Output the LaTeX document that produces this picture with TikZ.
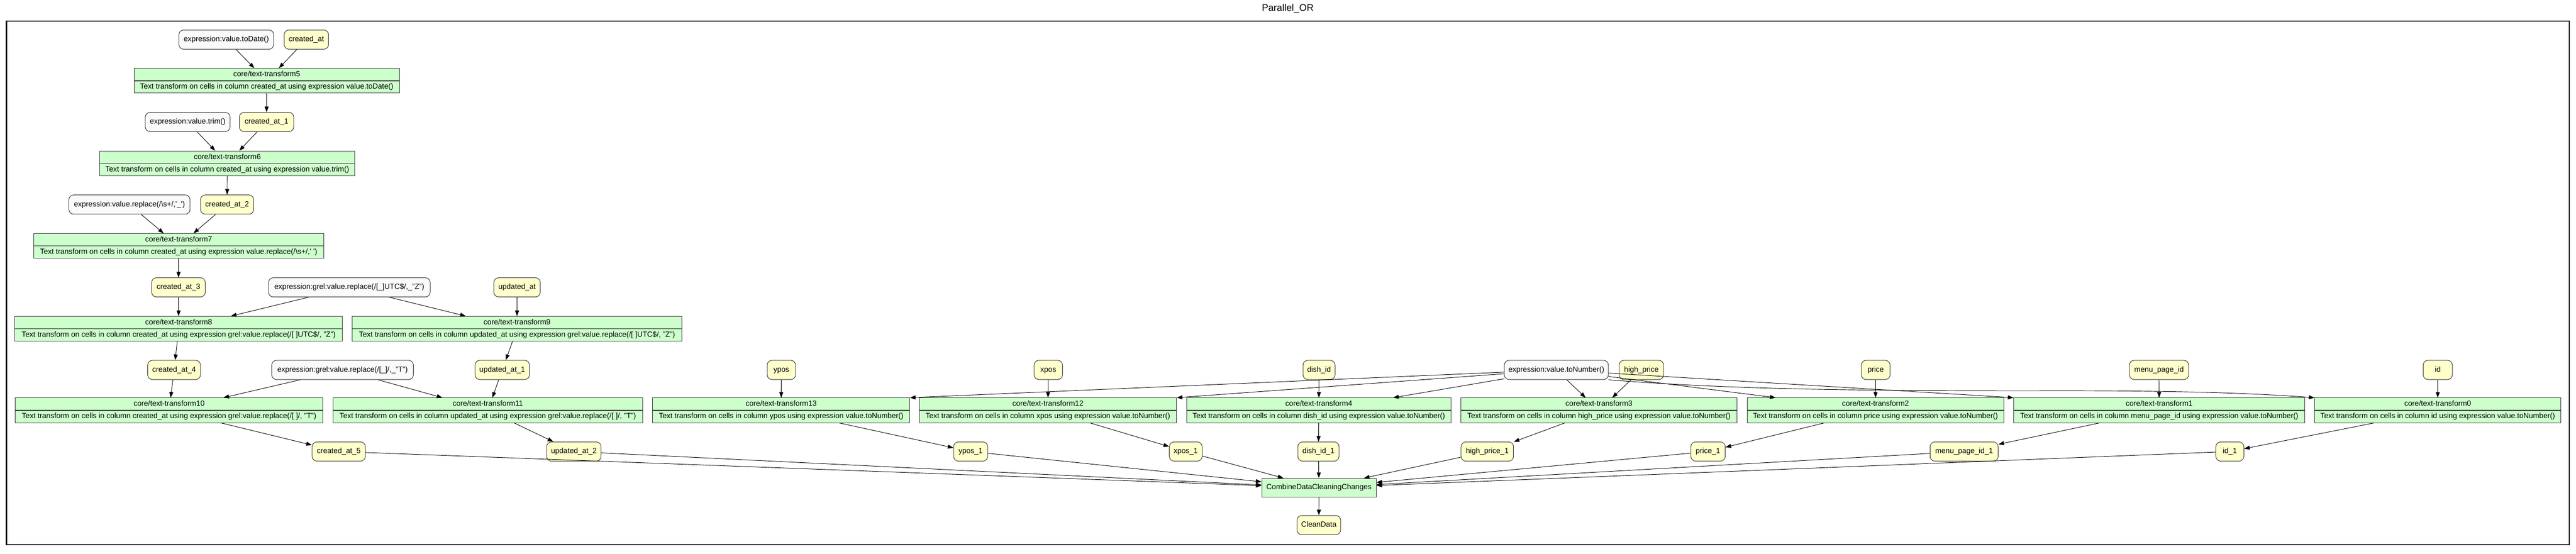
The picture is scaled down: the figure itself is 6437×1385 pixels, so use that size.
\documentclass[tikz,border=0pt]{standalone}
\usepackage{fontspec}
\setmainfont{Liberation Sans}
\usetikzlibrary{arrows.meta}
\definecolor{gvyellow}{HTML}{FFFFCC}
\definecolor{gvgreen}{HTML}{CCFFCC}
\definecolor{gvwhite}{HTML}{FAFAFA}
\definecolor{gvborder}{HTML}{333333}
\tikzset{
 gvbase/.style={draw=gvborder, line width=1.3pt, font=\fontsize{18.67}{22}\selectfont, inner xsep=3pt, inner ysep=0pt, minimum height=48pt, text height=13.5pt, text depth=4pt},
 datum/.style={gvbase, fill=gvyellow, rounded corners=12pt},
 exprn/.style={gvbase, fill=gvwhite, rounded corners=12pt},
 tbox/.style={draw=gvborder, line width=1.3pt, fill=gvgreen, font=\fontsize{18.67}{31}\selectfont, align=center, minimum height=62pt, inner xsep=3pt, inner ysep=0pt,
   path picture={\draw[gvborder, line width=2pt] (path picture bounding box.west) -- (path picture bounding box.east);}},
 cbox/.style={gvbase, fill=gvgreen, minimum height=47pt},
 flow/.style={draw=black, line width=1.2pt, -{Triangle[length=14pt,width=10pt]}},
}
\begin{document}
\begin{tikzpicture}[x=1pt,y=-1pt]
\useasboundingbox (0,0) rectangle (6437,1385);
\node[font=\fontsize{24}{28}\selectfont] (title) at (3218,22) {Parallel\_OR};
\draw[line width=3pt, black] (16,53) rectangle (6420,1362);

% created_at chain
\node[exprn, minimum width=237pt] (eToDate) at (565.5,99) {expression:value.toDate()};
\node[datum, minimum width=111pt] (createdAt) at (765.5,99) {created\_at};
\node[tbox, minimum width=663pt] (t5) at (666.5,202) {core/text-transform5\\Text transform on cells in column created\_at using expression value.toDate()};
\node[exprn, minimum width=212pt] (eTrim) at (469,305) {expression:value.trim()};
\node[datum, minimum width=136pt] (createdAt1) at (666,305) {created\_at\_1};
\node[tbox, minimum width=638pt] (t6) at (568,408.5) {core/text-transform6\\Text transform on cells in column created\_at using expression value.trim()};
\node[exprn, minimum width=303pt] (eReplS) at (323.5,511.5) {expression:value.replace(/\textbackslash s+/,\textquotesingle\_\textquotesingle)};
\node[datum, minimum width=133pt] (createdAt2) at (567.5,511.5) {created\_at\_2};
\node[tbox, minimum width=725pt] (t7) at (446.5,615) {core/text-transform7\\Text transform on cells in column created\_at using expression value.replace(/\textbackslash s+/,\textquotesingle\ \textquotesingle)};
\node[datum, minimum width=134pt] (createdAt3) at (446,718.5) {created\_at\_3};
\node[exprn, minimum width=404pt] (eGrelZ) at (873,718.5) {expression:grel:value.replace(/[\_]UTC\$/,\_"Z")};
\node[datum, minimum width=116pt] (updatedAt) at (1292,718.5) {updated\_at};
\node[tbox, minimum width=819pt] (t8) at (446.5,822) {core/text-transform8\\Text transform on cells in column created\_at using expression grel:value.replace(/[ ]UTC\$/, "Z")};
\node[tbox, minimum width=824pt] (t9) at (1292,822) {core/text-transform9\\Text transform on cells in column updated\_at using expression grel:value.replace(/[ ]UTC\$/, "Z")};

% row of inputs
\node[datum, minimum width=132pt] (createdAt4) at (435,925) {created\_at\_4};
\node[exprn, minimum width=354pt] (eGrelT) at (856,925) {expression:grel:value.replace(/[\_]/,\_"T")};
\node[datum, minimum width=136pt] (updatedAt1) at (1255,925) {updated\_at\_1};
\node[datum, minimum width=71pt] (ypos) at (1952.5,925) {ypos};
\node[datum, minimum width=71pt] (xpos) at (2619.5,925) {xpos};
\node[datum, minimum width=80pt] (dishId) at (3296,925) {dish\_id};
\node[exprn, minimum width=260pt] (eToNumber) at (3889,925) {expression:value.toNumber()};
\node[datum, minimum width=111pt] (highPrice) at (4101.5,925) {high\_price};
\node[datum, minimum width=72pt] (price) at (4687,925) {price};
\node[datum, minimum width=148pt] (menuPageId) at (5395,925) {menu\_page\_id};
\node[datum, minimum width=73pt] (id) at (6091.5,925) {id};

% transforms row
\node[tbox, minimum width=769pt] (t10) at (422.5,1026) {core/text-transform10\\Text transform on cells in column created\_at using expression grel:value.replace(/[ ]/, "T")};
\node[tbox, minimum width=774pt] (t11) at (1219,1026) {core/text-transform11\\Text transform on cells in column updated\_at using expression grel:value.replace(/[ ]/, "T")};
\node[tbox, minimum width=642pt] (t13) at (1952,1026) {core/text-transform13\\Text transform on cells in column ypos using expression value.toNumber()};
\node[tbox, minimum width=643pt] (t12) at (2618.5,1026) {core/text-transform12\\Text transform on cells in column xpos using expression value.toNumber()};
\node[tbox, minimum width=661pt] (t4) at (3295.5,1026) {core/text-transform4\\Text transform on cells in column dish\_id using expression value.toNumber()};
\node[tbox, minimum width=689pt] (t3) at (3995.5,1026) {core/text-transform3\\Text transform on cells in column high\_price using expression value.toNumber()};
\node[tbox, minimum width=641pt] (t2) at (4686.5,1026) {core/text-transform2\\Text transform on cells in column price using expression value.toNumber()};
\node[tbox, minimum width=727pt] (t1) at (5395.5,1026) {core/text-transform1\\Text transform on cells in column menu\_page\_id using expression value.toNumber()};
\node[tbox, minimum width=615pt] (t0) at (6091.5,1026) {core/text-transform0\\Text transform on cells in column id using expression value.toNumber()};

% outputs
\node[datum, minimum width=133pt] (createdAt5) at (846.5,1129) {created\_at\_5};
\node[datum, minimum width=136pt] (updatedAt2) at (1434,1129) {updated\_at\_2};
\node[datum, minimum width=85pt] (ypos1) at (2425.5,1129) {ypos\_1};
\node[datum, minimum width=82pt] (xpos1) at (2963,1129) {xpos\_1};
\node[datum, minimum width=103pt] (dishId1) at (3294.5,1129) {dish\_id\_1};
\node[datum, minimum width=131pt] (highPrice1) at (3716.5,1129) {high\_price\_1};
\node[datum, minimum width=86pt] (price1) at (4268,1129) {price\_1};
\node[datum, minimum width=170pt] (menuPageId1) at (4908,1129) {menu\_page\_id\_1};
\node[datum, minimum width=70pt] (id1) at (5572,1129) {id\_1};

\node[cbox, minimum width=286pt] (combine) at (3296,1219.5) {CombineDataCleaningChanges};
\node[datum, minimum width=109pt] (cleanData) at (3295.5,1313) {CleanData};

% edges
\draw[flow] (eToDate) -- (t5);
\draw[flow] (createdAt) -- (t5);
\draw[flow] (t5) -- (createdAt1);
\draw[flow] (eTrim) -- (t6);
\draw[flow] (createdAt1) -- (t6);
\draw[flow] (t6) -- (createdAt2);
\draw[flow] (eReplS) -- (t7);
\draw[flow] (createdAt2) -- (t7);
\draw[flow] (t7) -- (createdAt3);
\draw[flow] (createdAt3) -- (t8);
\draw[flow] (eGrelZ) -- (t8);
\draw[flow] (eGrelZ) -- (t9);
\draw[flow] (updatedAt) -- (t9);
\draw[flow] (t8) -- (createdAt4);
\draw[flow] (t9) -- (updatedAt1);
\draw[flow] (createdAt4) -- (t10);
\draw[flow] (eGrelT) -- (t10);
\draw[flow] (eGrelT) -- (t11);
\draw[flow] (updatedAt1) -- (t11);
\draw[flow] (t10) -- (createdAt5);
\draw[flow] (t11) -- (updatedAt2);

\draw[flow] (ypos) -- (t13);
\draw[flow] (xpos) -- (t12);
\draw[flow] (dishId) -- (t4);
\draw[flow] (highPrice) -- (t3);
\draw[flow] (price) -- (t2);
\draw[flow] (menuPageId) -- (t1);
\draw[flow] (id) -- (t0);

\draw[flow] (eToNumber) -- (t13.north east);
\draw[flow] (eToNumber) -- (t12.north east);
\draw[flow] (eToNumber) -- (t4);
\draw[flow] (eToNumber) -- (t3);
\draw[flow] (eToNumber) -- (t2);
\draw[flow] (eToNumber) -- (t1.north west);
\draw[flow] (eToNumber.south east) .. controls (4300,972) and (4600,978) .. (5150,977) .. controls (5500,977) and (5650,985) .. (t0.north west);

\draw[flow] (t13) -- (ypos1);
\draw[flow] (t12) -- (xpos1);
\draw[flow] (t4) -- (dishId1);
\draw[flow] (t3) -- (highPrice1);
\draw[flow] (t2) -- (price1);
\draw[flow] (t1) -- (menuPageId1);
\draw[flow] (t0) -- (id1);

\draw[flow] (createdAt5) -- (combine);
\draw[flow] (updatedAt2) -- (combine);
\draw[flow] (ypos1) -- (combine);
\draw[flow] (xpos1) -- (combine);
\draw[flow] (dishId1) -- (combine);
\draw[flow] (highPrice1) -- (combine);
\draw[flow] (price1) -- (combine);
\draw[flow] (menuPageId1) -- (combine);
\draw[flow] (id1) -- (combine);
\draw[flow] (combine) -- (cleanData);
\end{tikzpicture}
\end{document}
